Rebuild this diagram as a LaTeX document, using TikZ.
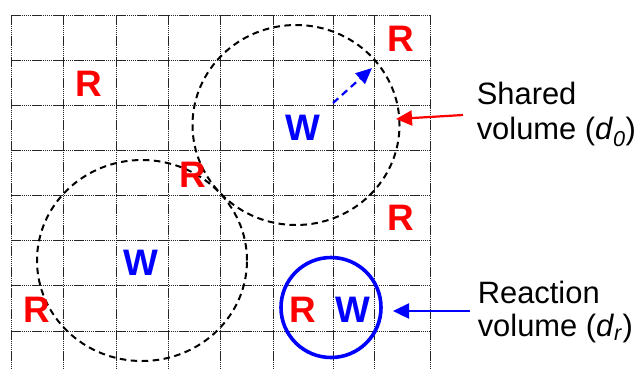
\documentclass[tikz,border=0pt]{standalone}
\usepackage{fontspec}
\setmainfont{Liberation Sans}
\usetikzlibrary{arrows.meta,shapes.geometric}
\definecolor{pureRed}{RGB}{255,0,0}
\definecolor{pureBlue}{RGB}{0,0,255}
\begin{document}
\begin{tikzpicture}[x=1bp,y=-1bp,
  gridline/.style={black!85,line width=0.9bp,dash pattern=on 1.5bp off 0.6bp},
  dashedvol/.style={draw=black,ellipse,inner sep=0pt,line width=2bp,dash pattern=on 6.5bp off 4.5bp},
  reactvol/.style={draw=pureBlue,circle,inner sep=0pt,line width=3.6bp,minimum size=100bp},
  rlet/.style={text=pureRed,inner sep=0pt,font=\fontsize{37}{40}\selectfont\bfseries},
  wlet/.style={text=pureBlue,inner sep=0pt,font=\fontsize{37}{40}\selectfont\bfseries},
  lbl/.style={inner sep=0pt,align=left,anchor=north west},
  redarr/.style={draw=pureRed,line width=2.2bp,-{Triangle[length=16bp,width=15bp]}},
  bluearr/.style={draw=pureBlue,line width=2.4bp,-{Triangle[length=16bp,width=15bp]}},
  bluedash/.style={draw=pureBlue,line width=2.2bp,dash pattern=on 7bp off 5bp,-{Triangle[length=16bp,width=14bp]}}
]
\useasboundingbox (0,0) rectangle (638,369);
% grid
\foreach \x in {11,63,116,168,220,273,333,374,430}
  \draw[gridline] (\x,15) -- (\x,369);
\foreach \y in {15,60,105,150,195,240,285,331}
  \draw[gridline] (11,\y) -- (430,\y);
% volumes
\node[dashedvol,minimum width=207bp,minimum height=200bp] (sv1) at (296,125) {};
\node[dashedvol,minimum width=210bp,minimum height=201bp] (sv2) at (142,260.5) {};
\node[reactvol] (rv) at (331,307.5) {};
% letters
\node[rlet] (r1) at (89,83.5) {R};
\node[rlet] (r2) at (401,38.5) {R};
\node[rlet] (r3) at (193,175) {R};
\node[rlet] (r4) at (401,218) {R};
\node[rlet] (r5) at (37,309.5) {R};
\node[rlet] (r6) at (303,309.5) {R};
\node[wlet] (w1) at (303,128) {W};
\node[wlet] (w2) at (141,263) {W};
\node[wlet] (w3) at (353,309.5) {W};
% labels
\node[lbl,font=\fontsize{31}{36}\selectfont] (shared) at (476.6,81.5) {Shared\\volume (\textit{d}\textsubscript{\textit{0}})};
\node[lbl,font=\fontsize{31}{33}\selectfont] (reaction) at (477.6,281) {Reaction\\volume (\textit{d}\textsubscript{\textit{r}})};
% arrows
\coordinate (wtail) at (333,103);
\coordinate (wtip) at (372,68);
\draw[bluedash] (wtail) -- (wtip);
\coordinate (redtip) at (396,119);
\coordinate (redtail) at (463,115);
\draw[redarr] (redtail) -- (redtip);
\coordinate (bluetip) at (393,311);
\coordinate (bluetail) at (470,311);
\draw[bluearr] (bluetail) -- (bluetip);
\end{tikzpicture}
\end{document}
